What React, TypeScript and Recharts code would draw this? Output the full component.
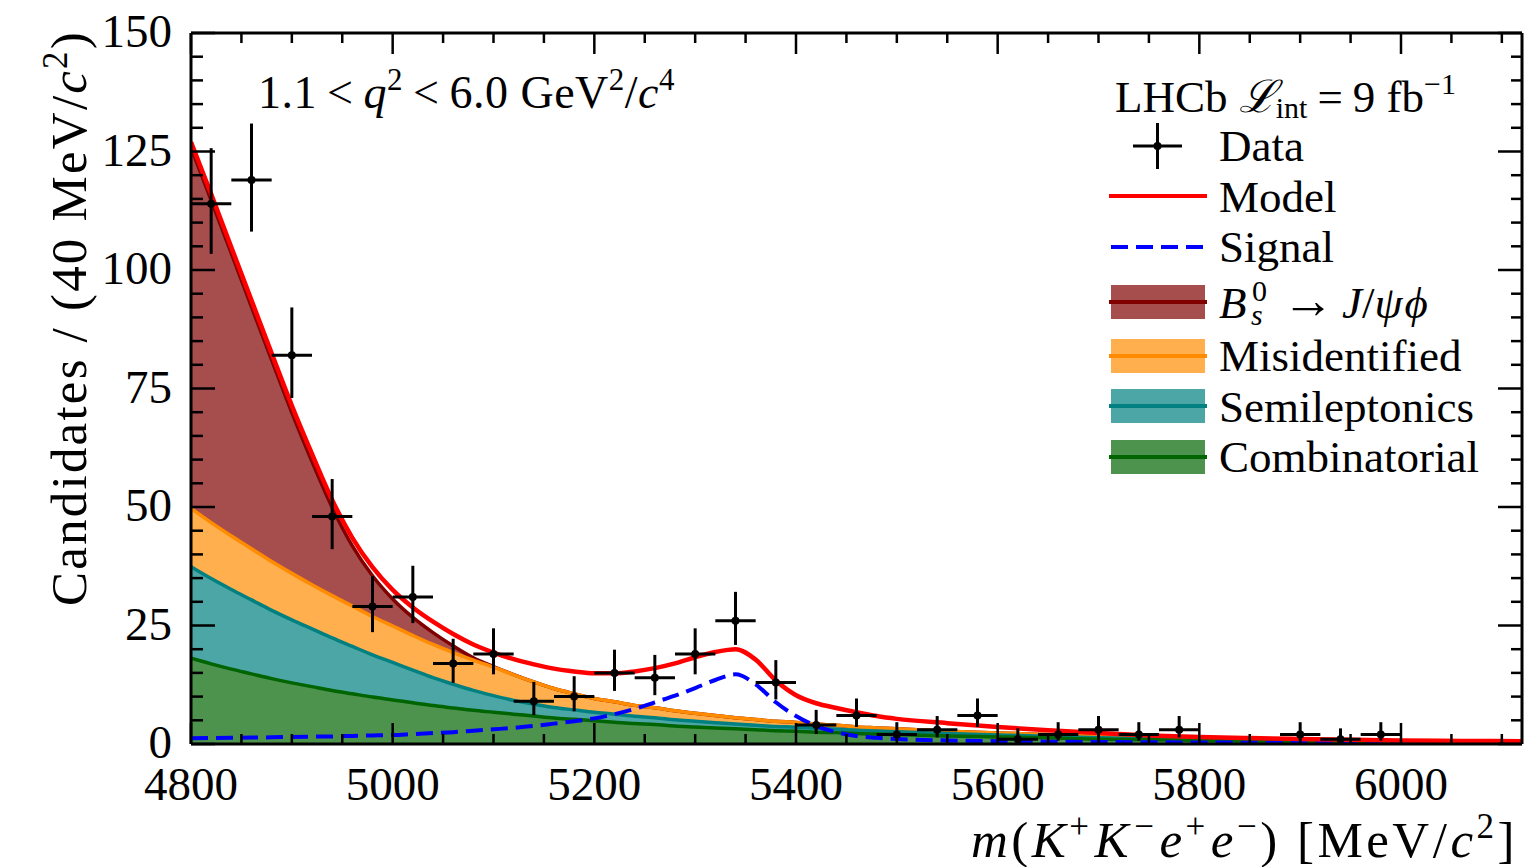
import { ComposedChart, Area, Line, Scatter, ErrorBar, XAxis, YAxis } from 'recharts'

const FONT = "'Liberation Serif', 'DejaVu Serif', serif"

// fit components, sampled on a mass grid [MeV/c^2]
const massGrid = [
  4800, 4820, 4840, 4860, 4880, 4900, 4920, 4940, 4960, 4980,
  5000, 5020, 5040, 5060, 5080, 5100, 5120, 5140, 5160, 5180,
  5200, 5220, 5240, 5260, 5280, 5300, 5320, 5340, 5360, 5380,
  5400, 5420, 5440, 5460, 5480, 5500,
  5550, 5600, 5650, 5700, 5750, 5800, 5850, 5900, 5950, 6000, 6060, 6120,
]
const combinatorial = [
  18.1, 16.9, 15.8, 14.8, 13.8, 12.9, 12.1, 11.3, 10.6, 9.9,
  9.3, 8.7, 8.1, 7.6, 7.1, 6.7, 6.3, 5.9, 5.5, 5.2,
  4.9, 4.6, 4.3, 4.1, 3.8, 3.6, 3.4, 3.2, 3.0, 2.8,
  2.7, 2.5, 2.4, 2.2, 2.1, 2.0,
  1.7, 1.5, 1.3, 1.0, 0.9, 0.75, 0.65, 0.55, 0.5, 0.45, 0.4, 0.35,
]
const semileptonics = [
  19.3, 18.0, 16.8, 15.6, 14.4, 13.3, 12.2, 11.1, 10.0, 8.9,
  7.9, 6.9, 5.9, 5.0, 4.2, 3.5, 2.9, 2.5, 2.2, 2.0,
  1.8, 1.7, 1.55, 1.45, 1.3, 1.2, 1.1, 1.0, 0.95, 0.9,
  0.85, 0.8, 0.75, 0.7, 0.65, 0.6,
  0.5, 0.4, 0.35, 0.3, 0.25, 0.2, 0.15, 0.12, 0.1, 0.08, 0.05, 0.03,
]
const misidentified = [
  12.3, 11.8, 11.3, 10.8, 10.3, 9.8, 9.3, 8.9, 8.5, 8.1,
  7.7, 7.3, 7.0, 6.7, 6.4, 6.0, 5.4, 4.7, 4.0, 3.4,
  2.9, 2.6, 2.3, 2.1, 1.9, 1.7, 1.5, 1.35, 1.2, 1.1,
  1.0, 0.9, 0.8, 0.7, 0.65, 0.6,
  0.5, 0.42, 0.35, 0.3, 0.25, 0.2, 0.17, 0.14, 0.12, 0.1, 0.08, 0.06,
]
const bsJpsiPhi = [
  76.1, 68.0, 59.6, 51.0, 42.5, 33.9, 26.0, 18.6, 12.7, 8.6,
  5.7, 3.8, 2.5, 1.4, 0.5, 0.15, 0.05, 0, 0, 0,
  0, 0, 0, 0, 0, 0, 0, 0, 0, 0,
  0, 0, 0, 0, 0, 0,
  0, 0, 0, 0, 0, 0, 0, 0, 0, 0, 0, 0,
]
const signal = [
  1.2, 1.25, 1.3, 1.35, 1.4, 1.5, 1.55, 1.6, 1.7, 1.8,
  1.9, 2.1, 2.3, 2.5, 2.8, 3.1, 3.4, 3.8, 4.3, 4.8,
  5.4, 6.3, 7.4, 8.8, 10.2, 11.8, 13.5, 14.7, 12.6, 8.8,
  5.9, 3.8, 2.5, 1.7, 1.3, 1.05,
  0.75, 0.6, 0.5, 0.42, 0.36, 0.32, 0.28, 0.25, 0.22, 0.2, 0.18, 0.16,
]
const model = [
  127.0, 116.0, 104.8, 93.6, 82.4, 71.4, 61.2, 51.5, 43.5, 37.3,
  32.5, 28.8, 25.8, 23.2, 21.0, 19.3, 17.9, 16.8, 15.9, 15.3,
  14.9, 14.9, 15.3, 16.0, 17.0, 18.3, 19.4, 20.0, 17.8, 13.4,
  10.3, 8.6, 7.6, 6.7, 5.9, 5.3,
  4.4, 3.6, 2.9, 2.3, 1.8, 1.5, 1.25, 1.05, 0.9, 0.75, 0.65, 0.6,
]

// data, 40 MeV bins (empty bins not drawn)
const binCentres = [
  4820, 4860, 4900, 4940, 4980, 5020, 5060, 5100, 5140, 5180,
  5220, 5260, 5300, 5340, 5380, 5420, 5460, 5500, 5540, 5580,
  5620, 5660, 5700, 5740, 5780, 5900, 5940, 5980,
]
const counts = [
  114, 119, 82, 48, 29, 31, 17, 19, 9, 10,
  15, 14, 19, 26, 13, 4, 6, 2, 3, 6,
  1, 2, 3, 2, 3, 2, 1, 2,
]
const errLow = [
  10.6, 10.9, 9.0, 6.9, 5.4, 5.5, 4.1, 4.3, 2.9, 3.1,
  3.8, 3.7, 4.3, 5.1, 3.6, 1.9, 2.4, 1.3, 1.6, 2.4,
  0.8, 1.3, 1.6, 1.3, 1.6, 1.3, 0.8, 1.3,
]
const errHigh = [
  11.7, 11.9, 10.1, 7.9, 6.4, 6.6, 5.2, 5.4, 4.1, 4.3,
  4.9, 4.8, 5.4, 6.1, 4.7, 3.2, 3.6, 2.6, 2.9, 3.6,
  2.3, 2.6, 2.9, 2.6, 2.9, 2.6, 2.3, 2.6,
]
const halfBin = 20

const xTicks = [
  4800, 4850, 4900, 4950, 5000, 5050, 5100, 5150, 5200, 5250, 5300, 5350,
  5400, 5450, 5500, 5550, 5600, 5650, 5700, 5750, 5800, 5850, 5900, 5950,
  6000, 6050, 6100,
]
const yTicks = [
  0, 5, 10, 15, 20, 25, 30, 35, 40, 45, 50, 55, 60, 65, 70, 75,
  80, 85, 90, 95, 100, 105, 110, 115, 120, 125, 130, 135, 140, 145, 150,
]

// stacked fills plus the cumulative edges drawn as lines on top of them
const curves = massGrid.map((m, i) => {
  const c = combinatorial[i]
  const s = c + semileptonics[i]
  const mis = s + misidentified[i]
  return {
    m,
    combinatorial: combinatorial[i],
    semileptonics: semileptonics[i],
    misidentified: misidentified[i],
    bsJpsiPhi: bsJpsiPhi[i],
    combTop: c,
    semiTop: s,
    misTop: mis,
    bsTop: mis + bsJpsiPhi[i],
    signal: signal[i],
    model: model[i],
  }
})

const points = binCentres.map((m, i) => ({
  m,
  n: counts[i],
  ex: halfBin,
  ey: [errLow[i], errHigh[i]],
}))

function BottomTick({ x, y, payload }: any) {
  const major = payload.value % 200 === 0
  return (
    <g>
      <line x1={x} x2={x} y1={y} y2={y - (major ? 21 : 10)} stroke="#000" strokeWidth={2.5} />
      {major && (
        <text x={x} y={y + 56} textAnchor="middle" fontSize={47} fontFamily={FONT} fill="#000">
          {payload.value}
        </text>
      )}
    </g>
  )
}

function TopTick({ x, y, payload }: any) {
  const major = payload.value % 200 === 0
  return <line x1={x} x2={x} y1={y} y2={y + (major ? 21 : 10)} stroke="#000" strokeWidth={2.5} />
}

function LeftTick({ x, y, payload }: any) {
  const major = payload.value % 25 === 0
  return (
    <g>
      <line x1={x} x2={x + (major ? 24 : 12)} y1={y} y2={y} stroke="#000" strokeWidth={2.5} />
      {major && (
        <text x={x - 19} y={y + 14} textAnchor="end" fontSize={47} fontFamily={FONT} fill="#000">
          {payload.value}
        </text>
      )}
    </g>
  )
}

function RightTick({ x, y, payload }: any) {
  const major = payload.value % 25 === 0
  return <line x1={x} x2={x - (major ? 24 : 11)} y1={y} y2={y} stroke="#000" strokeWidth={2.5} />
}

function DataDot({ cx, cy }: any) {
  return <circle cx={cx} cy={cy} r={4} fill="#000" />
}

const frame = { stroke: '#000', strokeWidth: 3 }

function BandKey({ y, fill, stroke }: { y: number; fill: string; stroke: string }) {
  return (
    <g>
      <rect x={1111} y={y - 17} width={94} height={34} fill={fill} />
      <line x1={1109} x2={1207} y1={y} y2={y} stroke={stroke} strokeWidth={4} />
    </g>
  )
}

function Overlay() {
  const t = { fontFamily: FONT, fill: '#000' }
  return (
    <svg width={1527} height={867} style={{ position: 'absolute', left: 0, top: 0, pointerEvents: 'none' }}>
      {/* axis titles */}
      <text transform="translate(86,30) rotate(-90)" textAnchor="end" fontSize={51} letterSpacing={2.2} {...t}>
        Candidates / (40 MeV/<tspan fontStyle="italic">c</tspan>
        <tspan dy={-19} fontSize={35}>2</tspan>
        <tspan dy={19}>)</tspan>
      </text>
      <text x={1518} y={857} textAnchor="end" fontSize={51} letterSpacing={3.5} {...t}>
        <tspan fontStyle="italic">m</tspan>(<tspan fontStyle="italic">K</tspan>
        <tspan dy={-19} fontSize={35}>+</tspan>
        <tspan dy={19} dx={2} fontStyle="italic">K</tspan>
        <tspan dy={-19} dx={2} fontSize={35}>−</tspan>
        <tspan dy={19} dx={2} fontStyle="italic">e</tspan>
        <tspan dy={-19} fontSize={35}>+</tspan>
        <tspan dy={19} dx={2} fontStyle="italic">e</tspan>
        <tspan dy={-19} fontSize={35}>−</tspan>
        <tspan dy={19}>) [MeV/</tspan>
        <tspan fontStyle="italic">c</tspan>
        <tspan dy={-19} fontSize={35}>2</tspan>
        <tspan dy={19}>]</tspan>
      </text>

      {/* q2 range */}
      <text x={258} y={108} fontSize={46} letterSpacing={0.5} {...t}>
        1.1<tspan dx={10}>&lt;</tspan>
        <tspan dx={10} fontStyle="italic">q</tspan>
        <tspan dy={-18} fontSize={31}>2</tspan>
        <tspan dy={18} dx={10}>&lt;</tspan>
        <tspan dx={10}>6.0 GeV</tspan>
        <tspan dy={-18} fontSize={31}>2</tspan>
        <tspan dy={18}>/</tspan>
        <tspan fontStyle="italic">c</tspan>
        <tspan dy={-18} fontSize={31}>4</tspan>
      </text>

      {/* legend */}
      <text x={1115} y={112} fontSize={45} {...t}>
        LHCb <tspan fontStyle="italic">ℒ</tspan>
        <tspan dy={6} fontSize={30}>int</tspan>
        <tspan dy={-6} dx={10}>=</tspan>
        <tspan dx={10}>9 fb</tspan>
        <tspan dy={-18} fontSize={30}>−1</tspan>
      </text>

      <line x1={1133} x2={1182} y1={146} y2={146} stroke="#000" strokeWidth={3} />
      <line x1={1157.5} x2={1157.5} y1={123} y2={169} stroke="#000" strokeWidth={3} />
      <circle cx={1157.5} cy={146} r={4} fill="#000" />
      <text x={1219} y={161} fontSize={45} {...t}>Data</text>

      <line x1={1109} x2={1207} y1={196} y2={196} stroke="#FF0000" strokeWidth={4} />
      <text x={1219} y={212} fontSize={45} {...t}>Model</text>

      <line x1={1111} x2={1205} y1={247} y2={247} stroke="#0000FF" strokeWidth={4} strokeDasharray="17 8" />
      <text x={1219} y={262} fontSize={45} {...t}>Signal</text>

      <BandKey y={302} fill="#A64D4D" stroke="#800000" />
      <text y={318} fontSize={45} {...t}>
        <tspan x={1219} fontStyle="italic">B</tspan>
        <tspan x={1252} dy={-17} fontSize={30}>0</tspan>
        <tspan x={1251} dy={24} fontSize={30} fontStyle="italic">s</tspan>
        <tspan x={1282} dy={-7} fontSize={52}>→</tspan>
        <tspan x={1342} fontStyle="italic">J</tspan>
        <tspan>/</tspan>
        <tspan fontStyle="italic" letterSpacing={2}>ψϕ</tspan>
      </text>

      <BandKey y={356} fill="#FFAF4D" stroke="#FF8C00" />
      <text x={1219} y={371} fontSize={45} {...t}>Misidentified</text>

      <BandKey y={406} fill="#4DA6A6" stroke="#008080" />
      <text x={1219} y={422} fontSize={45} {...t}>Semileptonics</text>

      <BandKey y={457} fill="#4D924D" stroke="#006400" />
      <text x={1219} y={472} fontSize={45} {...t}>Combinatorial</text>
    </svg>
  )
}

export default function App() {
  return (
    <div style={{ position: 'absolute', left: 0, top: 0, width: 1527, height: 867, background: '#fff' }}>
      <ComposedChart
        width={1527}
        height={867}
        data={curves}
        margin={{ top: 0, right: 4, bottom: 0, left: 0 }}
      >
        <XAxis
          xAxisId="bottom"
          dataKey="m"
          type="number"
          domain={[4800, 6120]}
          allowDataOverflow
          ticks={xTicks}
          interval={0}
          height={123}
          tickSize={0}
          tickMargin={0}
          tickLine={false}
          axisLine={frame}
          tick={<BottomTick />}
        />
        <XAxis
          xAxisId="top"
          orientation="top"
          dataKey="m"
          type="number"
          domain={[4800, 6120]}
          allowDataOverflow
          ticks={xTicks}
          interval={0}
          height={33}
          tickSize={0}
          tickMargin={0}
          tickLine={false}
          axisLine={frame}
          tick={<TopTick />}
        />
        <YAxis
          yAxisId="left"
          type="number"
          domain={[0, 150]}
          allowDataOverflow
          ticks={yTicks}
          interval={0}
          width={191}
          tickSize={0}
          tickMargin={0}
          tickLine={false}
          axisLine={frame}
          tick={<LeftTick />}
        />
        <YAxis
          yAxisId="right"
          orientation="right"
          type="number"
          domain={[0, 150]}
          allowDataOverflow
          ticks={yTicks}
          interval={0}
          width={1}
          tickSize={0}
          tickMargin={0}
          tickLine={false}
          axisLine={frame}
          tick={<RightTick />}
        />

        <Area xAxisId="bottom" yAxisId="left" type="monotone" dataKey="combinatorial" stackId="bg"
          stroke="none" fill="#4D924D" fillOpacity={1} isAnimationActive={false} />
        <Area xAxisId="bottom" yAxisId="left" type="monotone" dataKey="semileptonics" stackId="bg"
          stroke="none" fill="#4DA6A6" fillOpacity={1} isAnimationActive={false} />
        <Area xAxisId="bottom" yAxisId="left" type="monotone" dataKey="misidentified" stackId="bg"
          stroke="none" fill="#FFAF4D" fillOpacity={1} isAnimationActive={false} />
        <Area xAxisId="bottom" yAxisId="left" type="monotone" dataKey="bsJpsiPhi" stackId="bg"
          stroke="none" fill="#A64D4D" fillOpacity={1} isAnimationActive={false} />

        <Line xAxisId="bottom" yAxisId="left" type="monotone" dataKey="bsTop" stroke="#800000"
          strokeWidth={3.5} dot={false} isAnimationActive={false} />
        <Line xAxisId="bottom" yAxisId="left" type="monotone" dataKey="misTop" stroke="#FF8C00"
          strokeWidth={3.5} dot={false} isAnimationActive={false} />
        <Line xAxisId="bottom" yAxisId="left" type="monotone" dataKey="semiTop" stroke="#008080"
          strokeWidth={3.5} dot={false} isAnimationActive={false} />
        <Line xAxisId="bottom" yAxisId="left" type="monotone" dataKey="combTop" stroke="#006400"
          strokeWidth={3.5} dot={false} isAnimationActive={false} />

        <Line xAxisId="bottom" yAxisId="left" type="monotone" dataKey="signal" stroke="#0000FF"
          strokeWidth={4} strokeDasharray="17 8" dot={false} isAnimationActive={false} />
        <Line xAxisId="bottom" yAxisId="left" type="monotone" dataKey="model" stroke="#FF0000"
          strokeWidth={4.5} dot={false} isAnimationActive={false} />
        {/* keeps the top/right frame axes bound to a series */}
        <Line xAxisId="top" yAxisId="right" type="monotone" dataKey="model" stroke="none"
          dot={false} activeDot={false} isAnimationActive={false} legendType="none" />

        <Scatter xAxisId="bottom" yAxisId="left" data={points} dataKey="n" shape={<DataDot />}
          isAnimationActive={false}>
          <ErrorBar dataKey="ey" direction="y" width={0} stroke="#000" strokeWidth={3} />
          <ErrorBar dataKey="ex" direction="x" width={0} stroke="#000" strokeWidth={3} />
        </Scatter>
      </ComposedChart>
      <Overlay />
    </div>
  )
}
